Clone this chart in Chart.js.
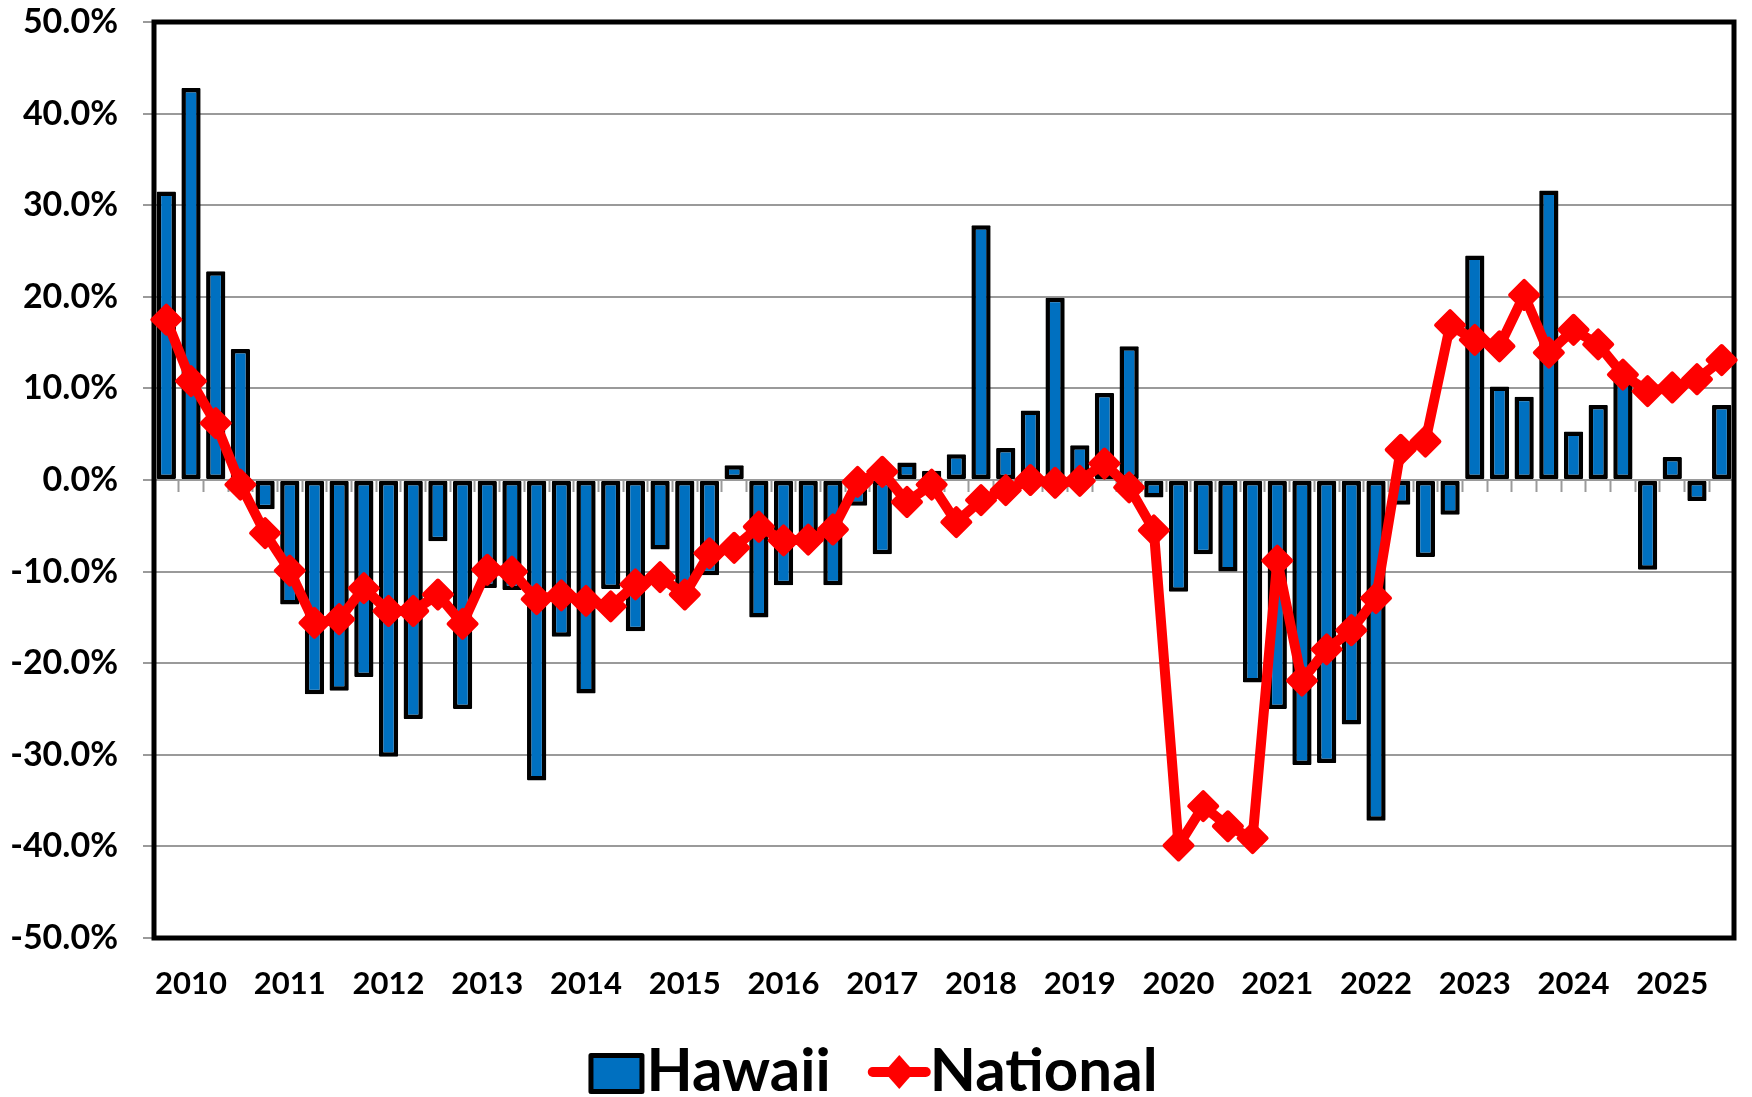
<!DOCTYPE html>
<html>
<head>
<meta charset="utf-8">
<title>Hawaii vs National</title>
<script src="https://cdn.jsdelivr.net/npm/chart.js@4.4.1/dist/chart.umd.min.js"></script>
<style>
  html, body { margin: 0; padding: 0; background: #fff; }
  #wrap { width: 1752px; height: 1097px; }
</style>
</head>
<body>
<div id="wrap"><canvas id="chart"></canvas></div>
<script>
// quarterly data, year label sits on the second quarter of each year
const years = ['2010', '2011', '2012', '2013', '2014', '2015', '2016', '2017',
               '2018', '2019', '2020', '2021', '2022', '2023', '2024', '2025'];
const quarters = ['Q1', 'Q2', 'Q3', 'Q4'];

const hawaii = [
  31.5, 42.8, 22.8, 14.3, -3.2, -13.6, -23.4, -23.0,
  -21.5, -30.2, -26.1, -6.7, -25.0, -11.8, -12.0, -32.8,
  -17.1, -23.3, -11.9, -16.5, -7.6, -12.0, -10.4, 1.6,
  -15.0, -11.5, -6.5, -11.5, -2.8, -8.1, 1.9, 1.0,
  2.8, 27.8, 3.5, 7.6, 19.9, 3.8, 9.5, 14.6,
  -1.9, -12.2, -8.1, -10.0, -22.1, -25.0, -31.1, -30.9,
  -26.7, -37.2, -2.7, -8.4, -3.8, 24.5, 10.2, 9.1,
  31.6, 5.3, 8.2, 11.0, -9.8, 2.5, -2.3, 8.2
];

const national = [
  17.5, 10.8, 6.2, -0.5, -5.8, -9.9, -15.6, -15.2,
  -11.8, -14.3, -14.3, -12.5, -15.7, -9.8, -10.0, -13.0,
  -12.6, -13.2, -13.8, -11.4, -10.6, -12.5, -8.0, -7.4,
  -5.1, -6.6, -6.5, -5.4, -0.2, 0.9, -2.4, -0.5,
  -4.6, -2.2, -1.1, 0.0, -0.3, -0.1, 1.8, -0.8,
  -5.5, -39.9, -35.6, -37.8, -39.1, -8.8, -21.9, -18.5,
  -16.4, -12.9, 3.3, 4.2, 16.9, 15.3, 14.6, 20.2,
  13.9, 16.4, 14.8, 11.5, 9.7, 10.1, 11.0, 13.1
];

const yMin = -50;
const yMax = 50;
const yStep = 10;

const categories = years.flatMap(y => quarters.map(q => y + ' ' + q));

const GRID = '#9a9a9a';
const BLUE = '#0070C0';
const RED = '#FF0000';

// black frame round the plot area
const framePlugin = {
  id: 'frame',
  beforeDatasetsDraw(chart) {
    const { ctx, chartArea: a } = chart;
    ctx.save();
    ctx.strokeStyle = '#000';
    ctx.lineWidth = 5;
    ctx.strokeRect(a.left, a.top, a.right - a.left, a.bottom - a.top);
    ctx.restore();
    ctx.lineJoin = 'round';
  }
};

// legend under the axis: box for the bars, line + diamond for the line
const legendPlugin = {
  id: 'bottomLegend',
  afterDraw(chart) {
    const ctx = chart.ctx;
    const bars = chart.data.datasets[0];
    const line = chart.data.datasets[1];
    ctx.save();
    ctx.font = 'bold 60px Lato';
    ctx.textBaseline = 'alphabetic';
    ctx.fillStyle = '#000';

    const w1 = ctx.measureText(bars.label).width;
    const w2 = ctx.measureText(line.label).width;
    const boxW = 56, gap1 = 2, gap2 = 38, markW = 61, gap3 = 0;
    const total = boxW + gap1 + w1 + gap2 + markW + gap3 + w2;
    let x = (chart.width - total) / 2 - 3;
    const baseline = 1091;

    ctx.fillStyle = bars.backgroundColor;
    ctx.strokeStyle = bars.borderColor;
    ctx.lineWidth = 5;
    ctx.lineJoin = 'round';
    ctx.fillRect(x + 2.5, 1055.5, boxW - 5, 36);
    ctx.strokeRect(x + 2.5, 1055.5, boxW - 5, 36);
    x += boxW + gap1;

    ctx.fillStyle = '#000';
    ctx.fillText(bars.label, x, baseline);
    x += w1 + gap2;

    const cy = 1072;
    ctx.strokeStyle = line.borderColor;
    ctx.lineWidth = 10;
    ctx.lineCap = 'round';
    ctx.beginPath();
    ctx.moveTo(x + 4, cy);
    ctx.lineTo(x + markW - 4, cy);
    ctx.stroke();
    ctx.fillStyle = line.borderColor;
    ctx.beginPath();
    const mx = x + markW / 2;
    ctx.moveTo(mx - 15, cy);
    ctx.lineTo(mx, cy - 17);
    ctx.lineTo(mx + 15, cy);
    ctx.lineTo(mx, cy + 17);
    ctx.closePath();
    ctx.fill();
    x += markW + gap3;

    ctx.fillStyle = '#000';
    ctx.fillText(line.label, x, baseline);
    ctx.restore();
  }
};

const chart = new Chart(document.getElementById('chart').getContext('2d'), {
  type: 'bar',
  data: {
    labels: categories,
    datasets: [
      {
        type: 'bar',
        label: 'Hawaii',
        data: hawaii,
        backgroundColor: BLUE,
        borderColor: '#000',
        borderWidth: 4.5,
        borderSkipped: false,
        borderRadius: 1,
        barPercentage: 0.78,
        categoryPercentage: 1,
        xAxisID: 'x',
        yAxisID: 'y',
        order: 2
      },
      {
        type: 'line',
        label: 'National',
        data: national,
        borderColor: RED,
        borderWidth: 10,
        borderJoinStyle: 'round',
        borderCapStyle: 'round',
        tension: 0,
        pointStyle: 'rectRot',
        pointRadius: 14,
        pointHoverRadius: 14,
        pointBackgroundColor: RED,
        pointBorderColor: RED,
        pointBorderWidth: 4,
        clip: false,
        xAxisID: 'x',
        yAxisID: 'y',
        order: 1
      }
    ]
  },
  options: {
    responsive: true,
    maintainAspectRatio: false,
    animation: false,
    layout: { padding: { top: 22, right: 7, left: 0, bottom: 0 } },
    plugins: {
      legend: { display: false },
      tooltip: { enabled: false }
    },
    scales: {
      x: {
        type: 'category',
        position: { y: 0 },
        offset: true,
        grid: {
          display: true,
          drawOnChartArea: false,
          drawTicks: true,
          tickLength: 11,
          tickWidth: 2,
          tickColor: GRID,
          offset: true
        },
        border: { display: true, color: GRID, width: 2 },
        ticks: { display: false, autoSkip: false }
      },
      x2: {
        type: 'category',
        position: 'bottom',
        offset: true,
        grid: { display: false },
        border: { display: false },
        ticks: {
          autoSkip: false,
          maxRotation: 0,
          minRotation: 0,
          padding: 19,
          color: '#000',
          font: { family: 'Lato', weight: 'bold', size: 31 },
          callback: (v, i) => (i % 4 === 1 ? years[Math.floor(i / 4)] : '')
        },
        afterFit(scale) { scale.height = 159; }
      },
      y: {
        position: 'left',
        min: yMin,
        max: yMax,
        ticks: {
          stepSize: yStep,
          padding: 25,
          color: '#000',
          font: { family: 'Lato', weight: 'bold', size: 34 },
          callback: v => v.toFixed(1) + '%'
        },
        grid: {
          color: GRID,
          lineWidth: 2,
          tickLength: 11,
          tickColor: GRID,
          tickWidth: 2
        },
        border: { display: false },
        afterFit(scale) {
          scale.width = 154;
          scale.paddingTop = 0;
          scale.paddingBottom = 0;
        }
      }
    }
  },
  plugins: [framePlugin, legendPlugin]
});
</script>
</body>
</html>
